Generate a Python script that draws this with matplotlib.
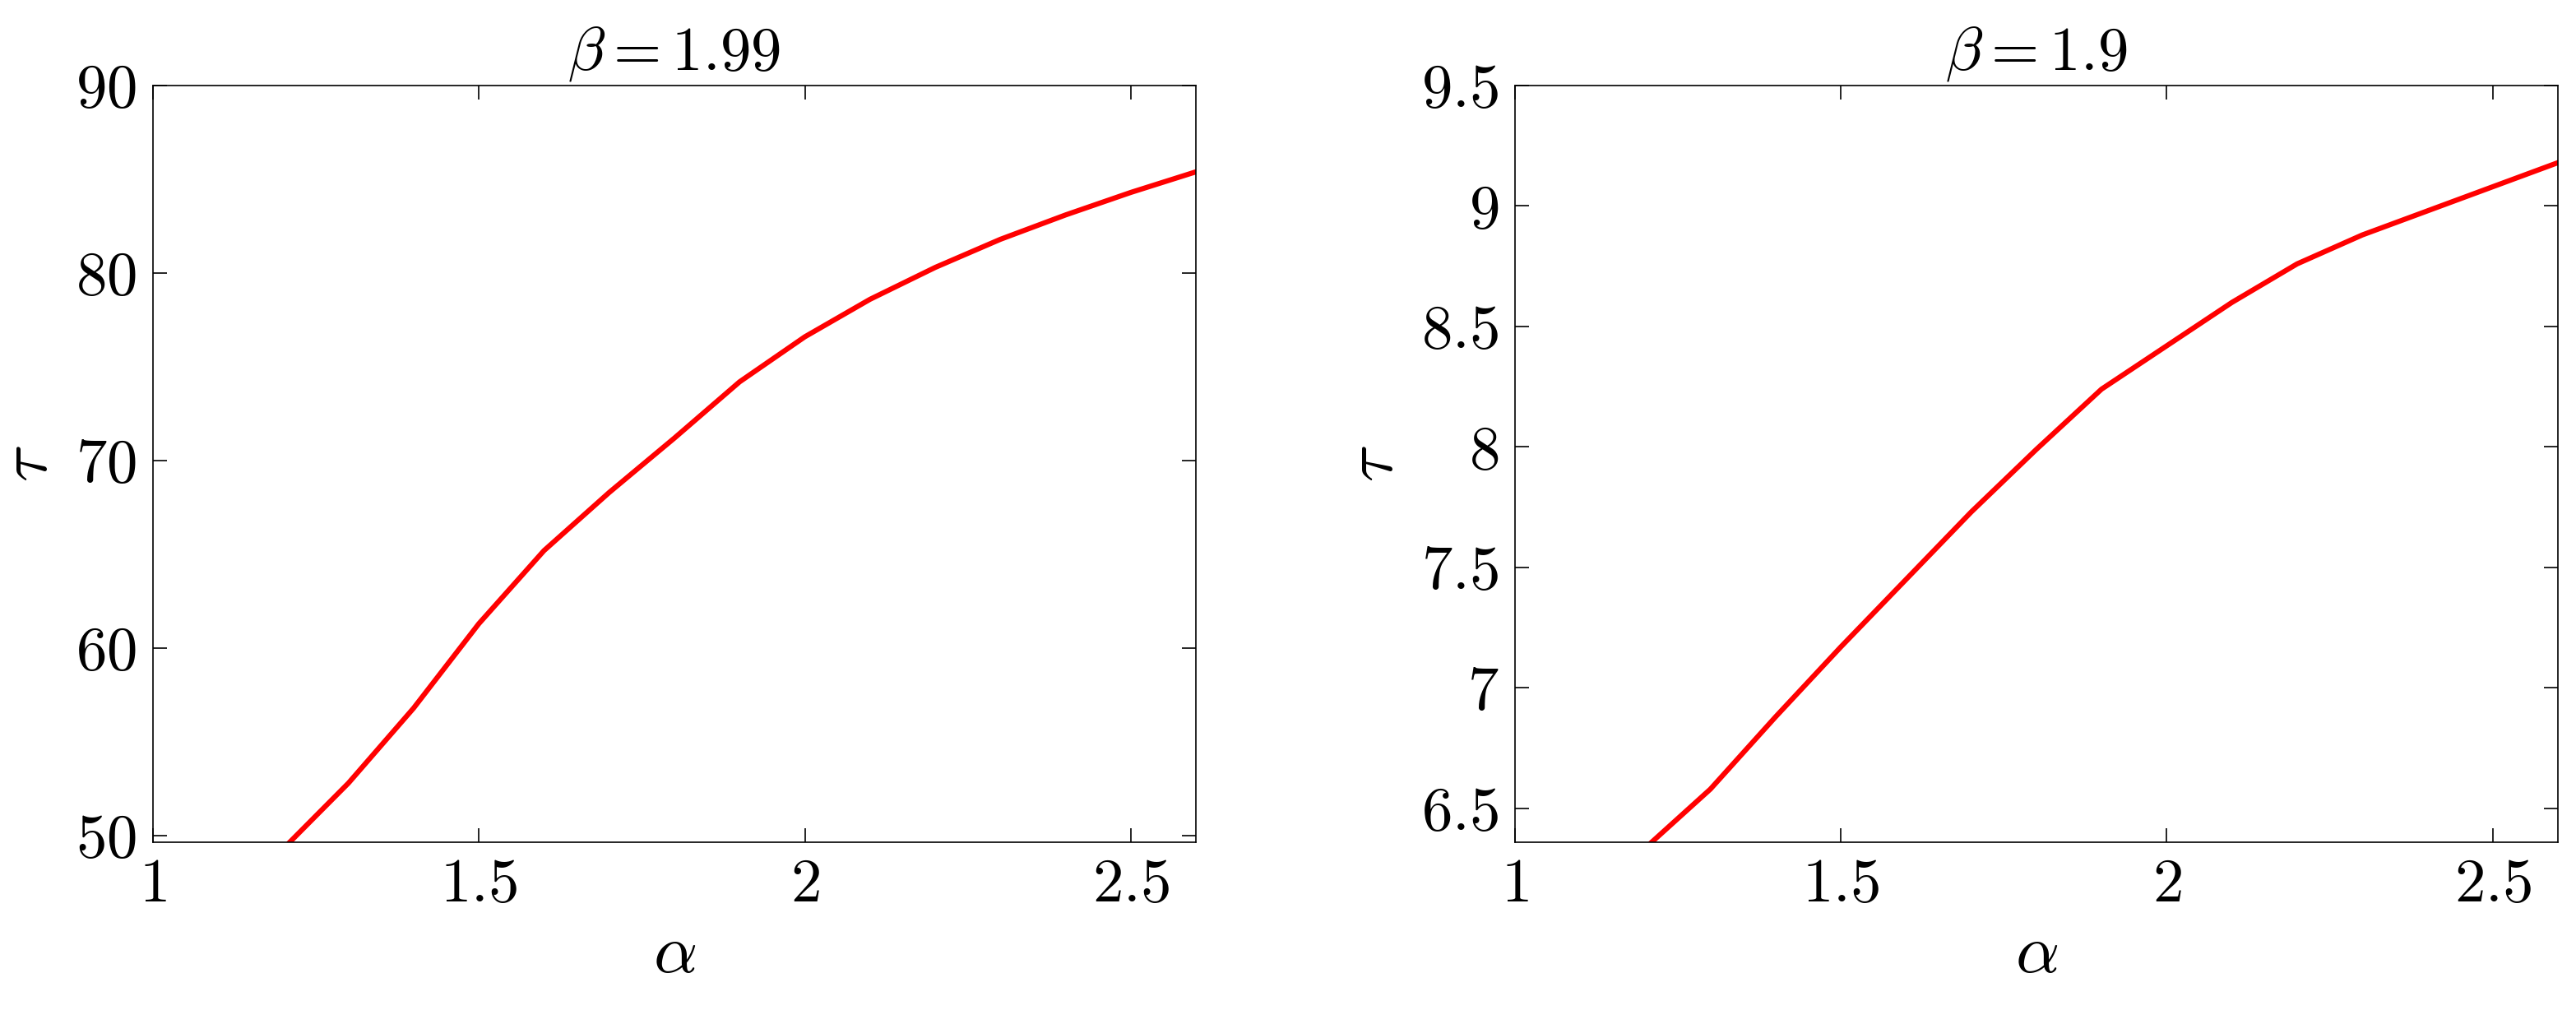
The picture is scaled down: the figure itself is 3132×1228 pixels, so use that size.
import matplotlib
matplotlib.use("Agg")
import matplotlib.pyplot as plt
import numpy as np

plt.rcParams['mathtext.fontset'] = 'cm'
plt.rcParams['font.family'] = 'serif'
plt.rcParams['font.serif'] = ['cmr10']
plt.rcParams['axes.formatter.use_mathtext'] = True

alpha = [1.21, 1.3, 1.4, 1.5, 1.6, 1.7, 1.8, 1.9, 2.0, 2.1, 2.2, 2.3, 2.4, 2.5, 2.6]
tau1 = [49.65, 52.8, 56.8, 61.3, 65.2, 68.3, 71.2, 74.2, 76.6, 78.6, 80.3, 81.8, 83.1, 84.3, 85.4]
tau2 = [6.36, 6.58, 6.88, 7.17, 7.45, 7.73, 7.99, 8.24, 8.42, 8.6, 8.76, 8.88, 8.98, 9.08, 9.18]

fig = plt.figure(figsize=(31.32, 12.28), dpi=100)
fs = 54
def setup(ax, x, y, title, ylim, yticks, ylabels):
    ax.plot(x, y, color='#ff0000', lw=4.5)
    ax.set_xlim(1, 2.6)
    ax.set_ylim(*ylim)
    ax.set_xticks([1, 1.5, 2, 2.5])
    ax.set_xticklabels(['$1$', '$1.5$', '$2$', '$2.5$'])
    ax.set_yticks(yticks)
    ax.set_yticklabels(ylabels)
    ax.tick_params(labelsize=fs, direction='in', length=12, width=1.2, right=True, top=True, pad=14)
    ax.set_xlabel(r'$\alpha$', fontsize=fs+6, labelpad=10)
    ax.set_ylabel(r'$\tau$', fontsize=fs+6, labelpad=14)
    ax.set_title(title, fontsize=fs, pad=14)
    for s in ax.spines.values():
        s.set_linewidth(1.2)

ax1 = fig.add_axes([93/1568, 1-512/614, 635/1568, 460/614])
setup(ax1, alpha, tau1, r'$\beta = 1.99$', (49.65, 90), [50, 60, 70, 80, 90],
      ['$50$', '$60$', '$70$', '$80$', '$90$'])
ax2 = fig.add_axes([922/1568, 1-512/614, 635/1568, 460/614])
yt = [6.5, 7, 7.5, 8, 8.5, 9, 9.5]
setup(ax2, alpha, tau2, r'$\beta = 1.9$', (6.36, 9.5), yt, [f'${v:g}$' for v in yt])
fig.savefig('out.png', dpi=100)
